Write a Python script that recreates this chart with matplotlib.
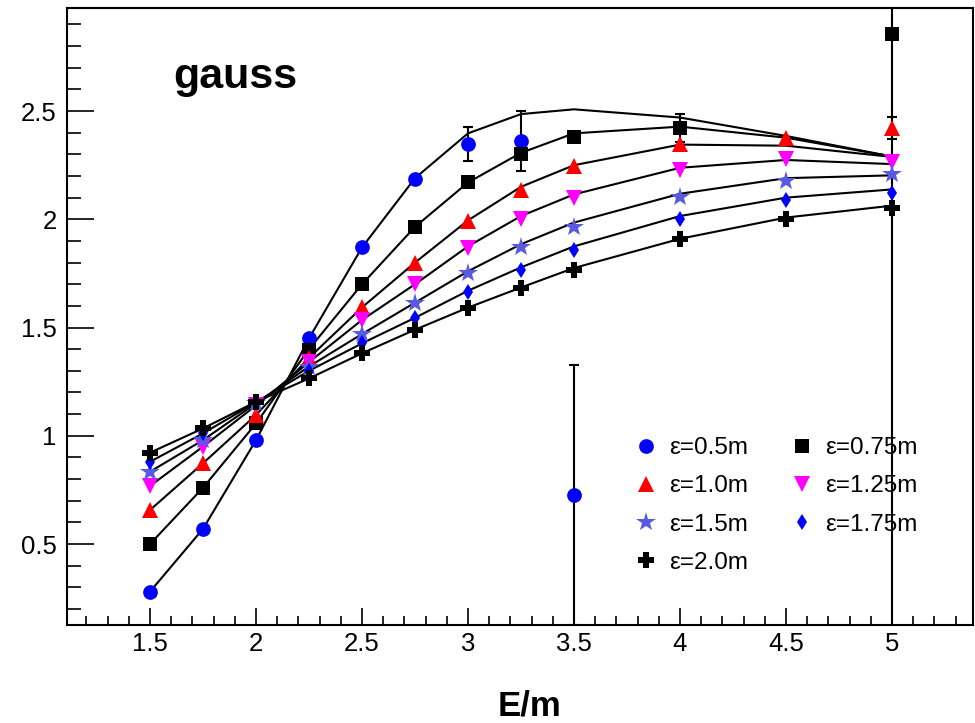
import matplotlib
matplotlib.use("Agg")
import matplotlib.pyplot as plt
from matplotlib.lines import Line2D
from matplotlib.ticker import MultipleLocator, FuncFormatter

plt.rcParams['font.family'] = ['Liberation Sans', 'DejaVu Sans']

# E/m sampling points of the model curves
energy = [1.5, 1.75, 2.0, 2.25, 2.5, 2.75, 3.0, 3.25, 3.5, 4.0, 4.5, 5.0]

# model curves for each smearing width
curve_050 = [0.28, 0.57, 0.98, 1.45, 1.87, 2.19, 2.397, 2.486, 2.508, 2.47, 2.385, 2.29]
curve_075 = [0.50, 0.76, 1.057, 1.40, 1.70, 1.965, 2.17, 2.307, 2.397, 2.428, 2.377, 2.29]
curve_100 = [0.657, 0.873, 1.096, 1.36, 1.593, 1.80, 1.995, 2.15, 2.25, 2.345, 2.34, 2.288]
curve_125 = [0.768, 0.95, 1.14, 1.34, 1.535, 1.70, 1.875, 2.015, 2.115, 2.238, 2.274, 2.255]
curve_150 = [0.834, 0.98, 1.15, 1.32, 1.47, 1.615, 1.76, 1.885, 1.985, 2.118, 2.19, 2.203]
curve_175 = [0.88, 1.011, 1.155, 1.30, 1.427, 1.545, 1.67, 1.778, 1.875, 2.015, 2.10, 2.138]
curve_200 = [0.922, 1.034, 1.157, 1.265, 1.381, 1.49, 1.592, 1.685, 1.775, 1.91, 2.008, 2.063]

# lattice points per smearing width
x_050 = [1.5, 1.75, 2.0, 2.25, 2.5, 2.75, 3.0, 3.25, 3.5]
y_050 = [0.28, 0.57, 0.98, 1.45, 1.873, 2.186, 2.348, 2.363, 0.725]
e_050 = [0, 0, 0, 0, 0, 0, 0.077, 0.139, 0.60]

x_075 = [1.5, 1.75, 2.0, 2.25, 2.5, 2.75, 3.0, 3.25, 3.5, 4.0, 5.0]
y_075 = [0.50, 0.76, 1.057, 1.396, 1.70, 1.965, 2.17, 2.30, 2.381, 2.42, 2.854]
e_075 = [0, 0, 0, 0, 0, 0, 0, 0, 0, 0.065, 2.9]

y_100 = [0.657, 0.873, 1.096, 1.36, 1.593, 1.80, 1.992, 2.135, 2.246, 2.348, 2.374, 2.423]
e_100 = [0, 0, 0, 0, 0, 0, 0, 0, 0, 0, 0, 0.05]
y_125 = [0.768, 0.949, 1.14, 1.34, 1.535, 1.70, 1.866, 2.0, 2.10, 2.23, 2.28, 2.266]
y_150 = [0.834, 0.98, 1.15, 1.32, 1.47, 1.615, 1.752, 1.87, 1.966, 2.104, 2.177, 2.208]
y_175 = [0.88, 1.011, 1.155, 1.30, 1.427, 1.546, 1.664, 1.764, 1.857, 2.0, 2.089, 2.123]
y_200 = [0.922, 1.034, 1.157, 1.265, 1.381, 1.49, 1.589, 1.681, 1.766, 1.907, 2.0, 2.05]

labels = ["ε=0.5m", "ε=0.75m", "ε=1.0m", "ε=1.25m", "ε=1.5m", "ε=1.75m", "ε=2.0m"]

W, H, DPI = 975, 723, 100
fig = plt.figure(figsize=(W / DPI, H / DPI), dpi=DPI)
ax = fig.add_axes([67 / W, 1 - 625 / H, (973 - 67) / W, (625 - 8) / H])

for curve in [curve_050, curve_075, curve_100, curve_125, curve_150, curve_175, curve_200]:
    ax.plot(energy, curve, color='black', lw=1.5, zorder=2)

series = [
    (x_050, y_050, e_050, 'o', '#0000ff', 10.6),
    (x_075, y_075, e_075, 's', '#000000', 10.6),
    (energy, y_100, e_100, '^', '#ff0000', 11.5),
    (energy, y_125, None, 'v', '#ff00ff', 11.5),
    (energy, y_150, None, '*', '#5a5ae0', 15),
    (energy, y_175, None, 'd', '#0000ff', 8),
    (energy, y_200, None, 'P', '#000000', 11),
]

handles = []
for (xs, ys, es, mk, col, ms), lab in zip(series, labels):
    if es is not None:
        xe = [x for x, e in zip(xs, es) if e > 0]
        ye = [y for y, e in zip(ys, es) if e > 0]
        ee = [e for e in es if e > 0]
        ax.errorbar(xe, ye, yerr=ee, fmt='none', ecolor='black',
                    elinewidth=1.5, capsize=3.5, capthick=1.5, zorder=3)
    ax.plot(xs, ys, linestyle='none', marker=mk, color=col, markersize=ms,
            markeredgewidth=0, zorder=4)
    handles.append(Line2D([], [], linestyle='none', marker=mk, color=col,
                          markersize=ms, markeredgewidth=0))

ax.set_xlim(1.1085, 5.382)
ax.set_ylim(0.126, 2.976)

ax.xaxis.set_major_locator(MultipleLocator(0.5))
ax.xaxis.set_minor_locator(MultipleLocator(0.1))
ax.yaxis.set_major_locator(MultipleLocator(0.5))
ax.yaxis.set_minor_locator(MultipleLocator(0.1))
fmt = FuncFormatter(lambda v, p: "%g" % round(v, 3))
ax.xaxis.set_major_formatter(fmt)
ax.yaxis.set_major_formatter(fmt)

ax.tick_params(axis='both', which='both', direction='in', top=False, right=False,
               width=1.2, labelsize=18.5)
ax.tick_params(axis='y', which='major', length=19.5, pad=7.5)
ax.tick_params(axis='y', which='minor', length=10)
ax.tick_params(axis='x', which='major', length=12, pad=5)
ax.tick_params(axis='x', which='minor', length=6.5)
for sp in ax.spines.values():
    sp.set_linewidth(1.5)

order = [0, 2, 4, 6, 1, 3, 5]
ax.legend([handles[i] for i in order], [labels[i] for i in order], ncol=2,
          frameon=False, loc='upper left', bbox_to_anchor=(634 / W, 1 - 437 / H),
          bbox_transform=fig.transFigure, fontsize=17.5, handlelength=1.0,
          handletextpad=0.45, columnspacing=1.71, labelspacing=0.67, borderpad=0,
          borderaxespad=0)

fig.text(173 / W, 1 - 88 / H, "gauss", fontsize=31, fontweight='bold',
         ha='left', va='baseline')
fig.text(529 / W, 1 - 716 / H, "E/m", fontsize=25, fontweight='bold',
         ha='center', va='baseline')

fig.savefig("out.png", dpi=DPI)
